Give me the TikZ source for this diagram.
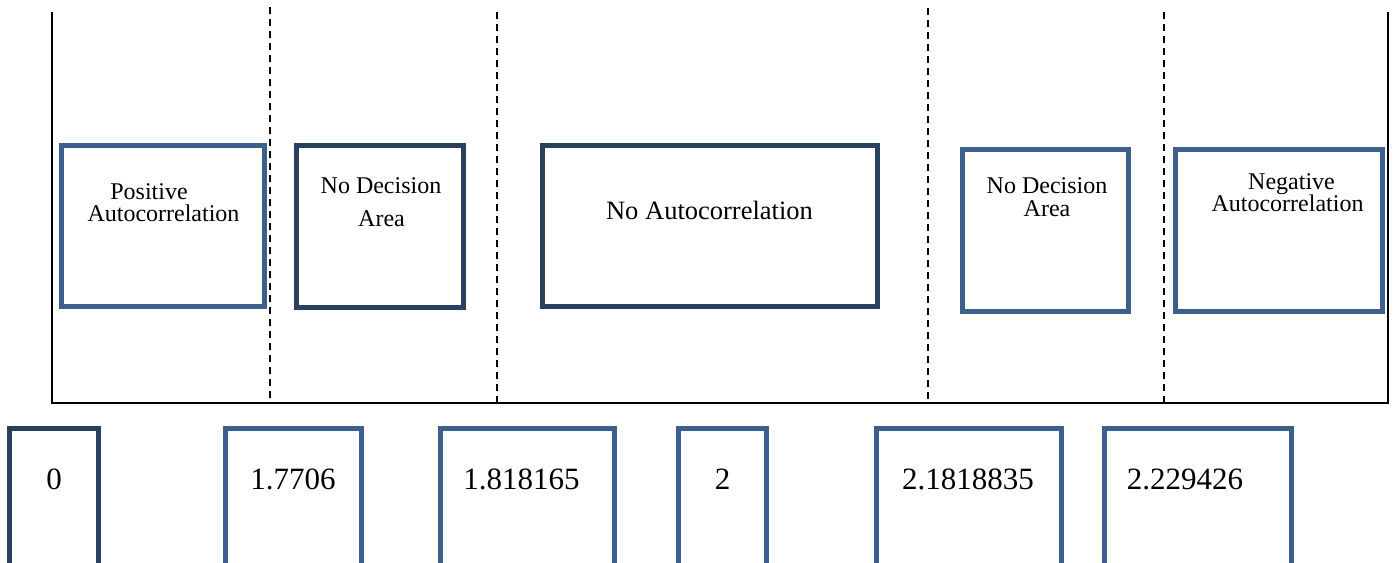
\documentclass[tikz,border=0pt]{standalone}
\usepackage{fontspec}
\setmainfont{Liberation Serif}
\begin{document}
\begin{tikzpicture}[x=1pt,y=-1pt,
  lightbox/.style={draw=boxlight,line width=5pt,rectangle,inner sep=0pt},
  darkbox/.style={draw=boxdark,line width=5pt,rectangle,inner sep=0pt},
  axisline/.style={line width=1.6pt,black},
  divider/.style={line width=1.5pt,black,dash pattern=on 7pt off 5pt},
  lbl/.style={inner sep=0pt,anchor=base,font=\fontsize{24}{24}\selectfont},
  biglbl/.style={inner sep=0pt,anchor=base,font=\fontsize{26.5}{26.5}\selectfont},
  numlbl/.style={inner sep=0pt,anchor=base,font=\fontsize{31}{31}\selectfont}]
\definecolor{boxlight}{RGB}{61,95,140}
\definecolor{boxdark}{RGB}{42,64,96}
\useasboundingbox (0,0) rectangle (1394,562);

% frame of the scale
\coordinate (tl) at (52,12);
\coordinate (bl) at (52,403);
\coordinate (tr) at (1388,12);
\coordinate (br) at (1388,403);
\draw[axisline] (tl) -- (bl) -- (br) -- (tr);

% dividing lines between the regions
\coordinate (d1t) at (270,7);   \coordinate (d1b) at (270,403);
\coordinate (d2t) at (497,12);  \coordinate (d2b) at (497,403);
\coordinate (d3t) at (928,8);   \coordinate (d3b) at (928,403);
\coordinate (d4t) at (1164,12); \coordinate (d4b) at (1164,403);
\draw[divider] (d1t) -- (d1b);
\draw[divider] (d2t) -- (d2b);
\draw[divider] (d3t) -- (d3b);
\draw[divider] (d4t) -- (d4b);

% region boxes
\node[lightbox,minimum width=203pt,minimum height=161pt] (pos) at (163,226) {};
\node[darkbox,minimum width=167pt,minimum height=162pt] (nd1) at (380,226.4) {};
\node[darkbox,minimum width=335pt,minimum height=161.5pt] (noac) at (709.5,226.2) {};
\node[lightbox,minimum width=166pt,minimum height=162pt] (nd2) at (1045,230) {};
\node[lightbox,minimum width=207.5pt,minimum height=162pt] (neg) at (1278.75,230) {};

% region labels
\node[lbl] (posA) at (149,199) {Positive};
\node[lbl] (posB) at (163.5,221) {Autocorrelation};
\node[lbl] (nd1A) at (381,193) {No Decision};
\node[lbl] (nd1B) at (381.5,226) {Area};
\node[biglbl] (noacA) at (709.5,219.3) {No Autocorrelation};
\node[lbl] (nd2A) at (1047,193) {No Decision};
\node[lbl] (nd2B) at (1047,216) {Area};
\node[lbl] (negA) at (1291.5,189) {Negative};
\node[lbl] (negB) at (1287.5,211) {Autocorrelation};

% critical values, boxes open at the bottom edge
\draw[boxdark,line width=5pt] (9.5,565) -- (9.5,428) -- (98,428) -- (98,565);
\draw[boxlight,line width=5pt] (225,565) -- (225,428) -- (361.5,428) -- (361.5,565);
\draw[boxlight,line width=5pt] (440,565) -- (440,428) -- (614.5,428) -- (614.5,565);
\draw[boxlight,line width=5pt] (678,565) -- (678,428) -- (766.5,428) -- (766.5,565);
\draw[boxlight,line width=5pt] (876.5,565) -- (876.5,428) -- (1061.5,428) -- (1061.5,565);
\draw[boxlight,line width=5pt] (1104,565) -- (1104,428) -- (1291.5,428) -- (1291.5,565);

\node[numlbl] (v0) at (54,489) {0};
\node[numlbl] (v1) at (293,489) {1.7706};
\node[numlbl] (v2) at (521.5,489) {1.818165};
\node[numlbl] (v3) at (722.5,489) {2};
\node[numlbl] (v4) at (968,489) {2.1818835};
\node[numlbl] (v5) at (1185,489) {2.229426};
\end{tikzpicture}
\end{document}
